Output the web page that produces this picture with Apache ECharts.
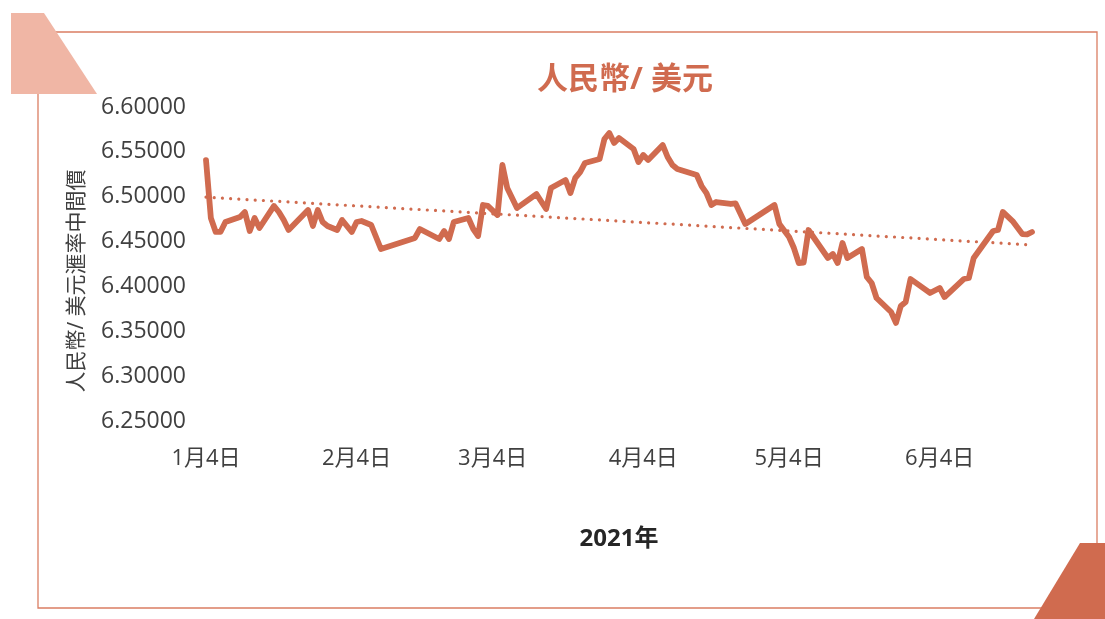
<!DOCTYPE html>
<html>
<head>
<meta charset="utf-8">
<script src="https://cdn.jsdelivr.net/npm/echarts@6/dist/echarts.min.js"></script>
<style>
html, body { margin: 0; padding: 0; background: #fff; }
#chart { width: 1105px; height: 619px; }
</style>
</head>
<body>
<div id="chart"></div>
<script>
// 人民幣/美元 中間價, 2021
const dates = [
    '2021-01-04', '2021-01-05', '2021-01-06', '2021-01-07', '2021-01-08', '2021-01-11', '2021-01-12',
    '2021-01-13', '2021-01-14', '2021-01-15', '2021-01-18', '2021-01-19', '2021-01-20', '2021-01-21',
    '2021-01-22', '2021-01-25', '2021-01-26', '2021-01-27', '2021-01-28', '2021-01-29', '2021-01-31',
    '2021-02-01', '2021-02-03', '2021-02-04', '2021-02-05', '2021-02-07', '2021-02-09', '2021-02-16',
    '2021-02-17', '2021-02-19', '2021-02-21', '2021-02-22', '2021-02-23', '2021-02-24', '2021-02-27',
    '2021-02-28', '2021-03-01', '2021-03-02', '2021-03-03', '2021-03-05', '2021-03-06', '2021-03-07',
    '2021-03-09', '2021-03-13', '2021-03-15', '2021-03-16', '2021-03-19', '2021-03-20', '2021-03-21',
    '2021-03-22', '2021-03-23', '2021-03-26', '2021-03-27', '2021-03-28', '2021-03-29', '2021-03-30',
    '2021-04-02', '2021-04-03', '2021-04-04', '2021-04-05', '2021-04-08', '2021-04-09', '2021-04-10',
    '2021-04-11', '2021-04-15', '2021-04-16', '2021-04-17', '2021-04-18', '2021-04-19', '2021-04-22',
    '2021-04-23', '2021-04-25', '2021-05-01', '2021-05-02', '2021-05-04', '2021-05-05', '2021-05-06',
    '2021-05-07', '2021-05-08', '2021-05-12', '2021-05-13', '2021-05-14', '2021-05-15', '2021-05-16',
    '2021-05-19', '2021-05-20', '2021-05-21', '2021-05-22', '2021-05-25', '2021-05-26', '2021-05-27',
    '2021-05-28', '2021-05-29', '2021-06-02', '2021-06-04', '2021-06-05', '2021-06-09', '2021-06-10',
    '2021-06-11', '2021-06-15', '2021-06-16', '2021-06-17', '2021-06-19', '2021-06-21', '2021-06-22',
    '2021-06-23'
];
const rates = [
    6.5408, 6.4763, 6.4607, 6.4609, 6.4718, 6.4774, 6.4830,
    6.4618, 6.4763, 6.4651, 6.4897, 6.4830, 6.4741, 6.4629,
    6.4685, 6.4852, 6.4674, 6.4852, 6.4718, 6.4674, 6.4629,
    6.4741, 6.4607, 6.4718, 6.4729, 6.4685, 6.4417, 6.4540,
    6.4640, 6.4584, 6.4529, 6.4618, 6.4529, 6.4718, 6.4763,
    6.4640, 6.4562, 6.4908, 6.4897, 6.4796, 6.5354, 6.5097,
    6.4874, 6.5030, 6.4863, 6.5097, 6.5186, 6.5041, 6.5209,
    6.5275, 6.5376, 6.5420, 6.5643, 6.5710, 6.5599, 6.5654,
    6.5532, 6.5387, 6.5465, 6.5409, 6.5576, 6.5443, 6.5354,
    6.5309, 6.5242, 6.5119, 6.5041, 6.4908, 6.4941, 6.4919,
    6.4925, 6.4696, 6.4908, 6.4696, 6.4551, 6.4428, 6.4261,
    6.4265, 6.4629, 6.4317, 6.4362, 6.4261, 6.4484, 6.4317,
    6.4417, 6.4105, 6.4038, 6.3871, 6.3715, 6.3593, 6.3782,
    6.3827, 6.4083, 6.3927, 6.3983, 6.3882, 6.4083, 6.4094,
    6.4317, 6.4618, 6.4629, 6.4830, 6.4729, 6.4584, 6.4580,
    6.4607
];
const tickDates = ['2021-01-04', '2021-02-04', '2021-03-04', '2021-04-04', '2021-05-04', '2021-06-04'];
const yTicks = [6.25, 6.30, 6.35, 6.40, 6.45, 6.50, 6.55, 6.60];

const mainColor = '#D06B4F';
const textColor = '#404040';
const fontFamily = '"Open Sans", "Noto Sans CJK TC", sans-serif';

function toTime(s) {
    let p = s.split('-').map(Number);
    return new Date(p[0], p[1] - 1, p[2]).getTime();
}

let times = dates.map(toTime);
let lineData = times.map((t, i) => [t, rates[i]]);

// linear trend line (least squares), like Excel's trendline
let n = times.length;
let mx = times.reduce((a, b) => a + b, 0) / n;
let my = rates.reduce((a, b) => a + b, 0) / n;
let sxy = 0, sxx = 0;
for (let i = 0; i < n; i++) {
    sxy += (times[i] - mx) * (rates[i] - my);
    sxx += (times[i] - mx) * (times[i] - mx);
}
let slope = sxy / sxx;
let trendData = [times[0], times[n - 1]].map(t => [t, my + slope * (t - mx)]);

let chartDom = document.getElementById('chart');
let myChart = echarts.init(chartDom, null, {renderer: 'canvas'});

let option = {
    animation: false,
    backgroundColor: '#fff',
    title: {
        text: '人民幣/ 美元',
        left: 620,
        top: 60,
        textAlign: 'center',
        textStyle: {color: mainColor, fontSize: 31, fontWeight: 'bold', fontFamily: fontFamily}
    },
    graphic: [
        {
            type: 'rect', z: 1,
            shape: {x: 38, y: 32, width: 1059, height: 576},
            style: {fill: null, stroke: '#DA7E63', lineWidth: 1.3}
        },
        {
            type: 'polygon', z: 2,
            shape: {points: [[11, 13], [44, 13], [97, 94], [11, 94]]},
            style: {fill: '#F0B6A5'}
        },
        {
            type: 'polygon', z: 2,
            shape: {points: [[1080, 543], [1105, 543], [1105, 619], [1034, 619]]},
            style: {fill: mainColor}
        },
        {
            type: 'text', z: 3,
            x: 77, y: 281, rotation: Math.PI / 2,
            style: {
                text: '人民幣/ 美元滙率中間價', fill: textColor, fontSize: 21,
                fontFamily: fontFamily, align: 'center', verticalAlign: 'middle'
            }
        }
    ],
    grid: {left: 206, right: 73, top: 107, bottom: 198},
    xAxis: {
        type: 'value',
        min: times[0],
        max: times[n - 1],
        name: '2021年',
        nameLocation: 'middle',
        nameGap: 106,
        nameTextStyle: {color: '#262626', fontSize: 24, fontWeight: 'bold', fontFamily: fontFamily},
        axisLine: {show: false},
        axisTick: {show: false},
        splitLine: {show: false},
        axisLabel: {
            customValues: tickDates.map(toTime),
            margin: 27,
            color: textColor,
            fontSize: 22,
            fontFamily: fontFamily,
            formatter: function (v) {
                let d = new Date(v);
                return (d.getMonth() + 1) + '月' + d.getDate() + '日';
            }
        }
    },
    yAxis: {
        type: 'value',
        min: yTicks[0],
        max: yTicks[yTicks.length - 1],
        interval: 0.05,
        axisLine: {show: false},
        axisTick: {show: false},
        splitLine: {show: false},
        axisLabel: {
            margin: 20,
            padding: [4, 0, 0, 0],
            color: textColor,
            fontSize: 23,
            fontFamily: fontFamily,
            formatter: v => v.toFixed(5)
        }
    },
    series: [
        {
            name: 'trend',
            type: 'line',
            data: trendData,
            showSymbol: false,
            silent: true,
            z: 2,
            lineStyle: {color: mainColor, width: 3.2, type: [0.01, 8.2], cap: 'round'}
        },
        {
            name: '人民幣/ 美元',
            type: 'line',
            data: lineData,
            showSymbol: false,
            z: 3,
            lineStyle: {color: mainColor, width: 5.8, join: 'round', cap: 'round'}
        }
    ]
};

myChart.setOption(option);

window.addEventListener('resize', () => {
    myChart.resize()
})
</script>
</body>
</html>
